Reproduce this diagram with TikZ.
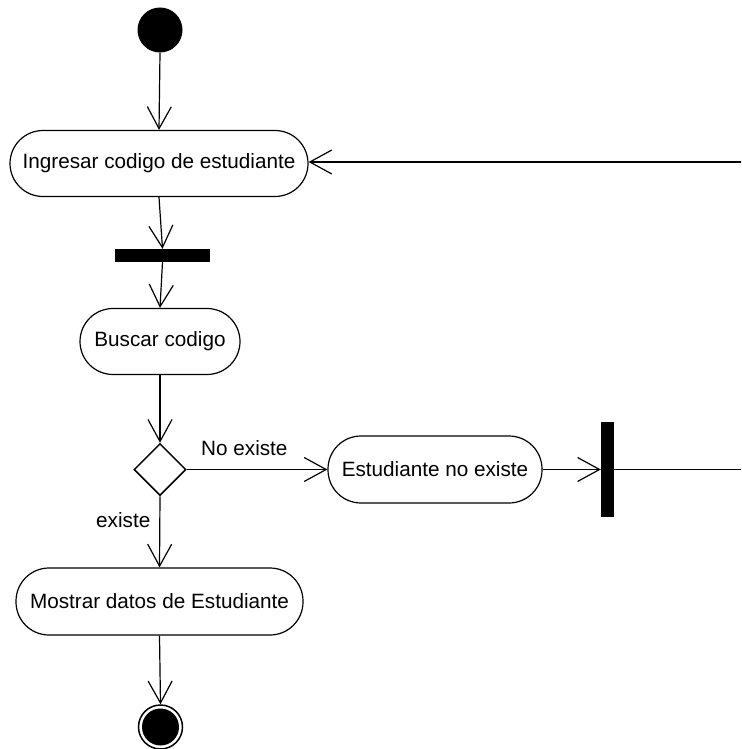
\documentclass[tikz,border=0pt]{standalone}
\usepackage{fontspec}
\setmainfont{Liberation Sans}
\usetikzlibrary{arrows.meta,shapes.geometric}
\begin{document}
\begin{tikzpicture}[x=1pt,y=-1pt,
  every node/.style={font=\fontsize{20.7}{24}\selectfont},
  flow/.style={line width=1.2pt,-{Straight Barb[length=22pt,width=24pt,line width=1.2pt]}},
  plain/.style={line width=1.2pt},
  activity/.style={draw,line width=1.2pt,rectangle,rounded corners=33pt,minimum height=66pt,inner sep=0pt},
  syncbar/.style={fill=black,draw=none,inner sep=0pt},
  decision/.style={draw,line width=1.5pt,diamond,minimum width=52pt,minimum height=52pt,inner sep=0pt,shape aspect=1},
  guard/.style={inner sep=0pt,anchor=base west}]
\useasboundingbox (0,0) rectangle (741,749);

% initial node
\node[circle,fill=black,minimum size=45pt,inner sep=0pt] (start) at (160,30) {};

% actions
\node[activity,minimum width=298pt] (ing) at (159,163.5) {Ingresar codigo de estudiante};
\node[syncbar,minimum width=95pt,minimum height=13pt] (fork) at (162.5,255.5) {};
\node[activity,minimum width=160pt] (bus) at (160,341.5) {Buscar codigo};
\node[decision] (dec) at (160,469.5) {};
\node[activity,minimum width=214pt,minimum height=67pt] (noex) at (435,469.5) {Estudiante no existe};
\node[syncbar,minimum width=13pt,minimum height=95pt] (join) at (607.5,469.5) {};
\node[activity,minimum width=287pt,minimum height=67pt] (most) at (159.5,601.5) {Mostrar datos de Estudiante};

% final node
\node[circle,draw,line width=1.5pt,minimum size=44pt,inner sep=0pt] (fin) at (160.5,727) {};
\node[circle,fill=black,minimum size=37pt,inner sep=0pt] (finin) at (fin.center) {};

% loop-back ends at the right border
\coordinate (outR) at (741,469.5);
\coordinate (inR) at (741,162);

% guards
\node[guard] (gno) at (201,455) {No existe};
\node[guard] (gyes) at (96,527) {existe};

% flows
\draw[flow] (start.south) -- (ing.north);
\draw[flow] (ing.south) -- (fork.north);
\draw[flow] (fork.south) -- (bus.north);
\draw[flow] (bus.south) -- (dec.north);
\draw[flow] (dec.east) -- (noex.west);
\draw[flow] (noex.east) -- (join.west);
\draw[plain] (join.east) -- (outR);
\draw[flow] (inR) -- (ing.east |- inR);
\draw[flow] (dec.south) -- (most.north);
\draw[flow] (most.south) -- (fin.north);
\end{tikzpicture}
\end{document}
